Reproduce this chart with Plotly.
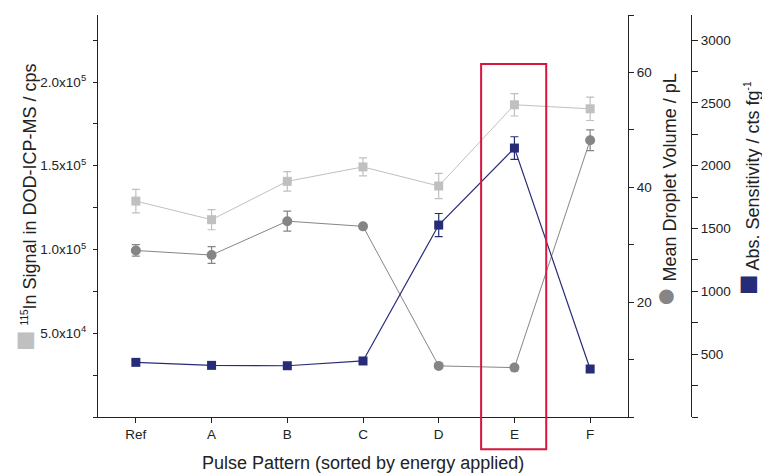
import plotly.graph_objects as go

categories = ["Ref", "A", "B", "C", "D", "E", "F"]
in_signal = [128900, 117800, 140700, 149300, 137900, 186400, 184000]
in_signal_err = [7000, 6000, 5800, 5400, 7500, 6700, 7000]
droplet_volume = [29.0, 28.2, 34.1, 33.2, 8.9, 8.6, 48.2]
droplet_err = [1.0, 1.45, 1.75, 0.3, 0.3, 0.3, 1.8]
sensitivity = [435, 411, 408, 446, 1528, 2141, 382]
sens_err = [15, 12, 12, 12, 92, 90, 12]

left_ticks = [5e4, 1e5, 1.5e5, 2e5]
left_ticktext = ["5.0x10<sup>4</sup>", "1.0x10<sup>5</sup>", "1.5x10<sup>5</sup>", "2.0x10<sup>5</sup>"]
vol_ticks = [20, 40, 60]
sens_ticks = [500, 1000, 1500, 2000, 2500, 3000]
highlight = "E"

LIGHT = "#c0c0c0"
GRAY = "#858585"
NAVY = "#272c79"
RED = "#d5173e"
AX = "#222222"
FONT = "Arial, Liberation Sans, sans-serif"
TICKFONT = dict(family=FONT, size=13.5, color="#222")
TITLEFONT = dict(family=FONT, size=18, color="#222")

xs = list(range(len(categories)))
fig = go.Figure()
fig.add_trace(go.Scatter(
    x=xs, y=in_signal, mode="lines+markers", yaxis="y",
    line=dict(color=LIGHT, width=1),
    marker=dict(symbol="square", size=9, color=LIGHT),
    error_y=dict(type="data", array=in_signal_err, color=LIGHT, thickness=1.2, width=4),
))
fig.add_trace(go.Scatter(
    x=xs, y=droplet_volume, mode="lines+markers", yaxis="y2",
    line=dict(color=GRAY, width=1),
    marker=dict(symbol="circle", size=10, color=GRAY),
    error_y=dict(type="data", array=droplet_err, color=GRAY, thickness=1.2, width=4),
))
fig.add_trace(go.Scatter(
    x=xs, y=sensitivity, mode="lines+markers", yaxis="y3",
    line=dict(color=NAVY, width=1.2),
    marker=dict(symbol="square", size=9, color=NAVY),
    error_y=dict(type="data", array=sens_err, color=NAVY, thickness=1.2, width=4),
))

W, H = 762, 474
ml, mr, mt, mb = 98, 71, 15, 57
plot_w = W - ml - mr
plot_h = H - mt - mb
xdom = 530 / plot_w
xr = [-0.5, len(categories) - 0.5]

axis_common = dict(showline=True, linecolor=AX, linewidth=1.3, ticks="outside",
                   tickcolor=AX, tickwidth=1.3, showgrid=False, zeroline=False,
                   automargin=False, tickfont=TICKFONT)

fig.update_layout(
    width=W, height=H,
    margin=dict(l=ml, r=mr, t=mt, b=mb, autoexpand=False),
    plot_bgcolor="white", paper_bgcolor="white",
    showlegend=False,
    font=dict(family=FONT, color="#222"),
    xaxis=dict(domain=[0, xdom], range=xr, tickvals=xs, ticktext=categories,
               ticklen=5, anchor="y", **axis_common),
    yaxis=dict(range=[0, 2.4e5], tickvals=left_ticks, ticktext=left_ticktext, ticklen=4,
               ticklabelstandoff=4,
               minor=dict(dtick=2.5e4, tick0=0, ticklen=4, tickcolor=AX, ticks="outside", showgrid=False),
               **axis_common),
    yaxis2=dict(range=[0, 70], tickvals=vol_ticks, overlaying="y", side="right", anchor="x",
                ticklen=5,
                minor=dict(dtick=10, tick0=0, ticklen=5, tickcolor=AX, ticks="outside", showgrid=False),
                **axis_common),
    yaxis3=dict(range=[0, 3200], tickvals=sens_ticks, overlaying="y", side="right", anchor="free",
                position=1.0, ticklen=6,
                minor=dict(dtick=250, tick0=0, ticklen=6, tickcolor=AX, ticks="outside", showgrid=False),
                **axis_common),
)

hi = categories.index(highlight)
def xpaper(v):
    return xdom * (v - xr[0]) / (xr[1] - xr[0])
fig.add_shape(type="rect", xref="paper", yref="paper",
              x0=xpaper(hi - 0.44), x1=xpaper(hi + 0.42), y0=-0.08, y1=0.878,
              line=dict(color=RED, width=2), fillcolor="rgba(0,0,0,0)", layer="above")

def px_x(px):
    return (px - ml) / plot_w
def px_y(py):
    return (H - mb - py) / plot_h

fig.add_annotation(
    text="Pulse Pattern (sorted by energy applied)",
    xref="paper", yref="paper", x=px_x(363), y=px_y(463),
    showarrow=False, font=TITLEFONT, xanchor="center", yanchor="middle")
fig.add_annotation(
    text='<span style="font-size:34px;color:%s">■</span> <sup><span style="font-size:10px">115</span></sup>In Signal in DOD-ICP-MS / cps' % LIGHT,
    xref="paper", yref="paper", x=px_x(24), y=px_y(207),
    textangle=-90, showarrow=False, font=TITLEFONT,
    xanchor="center", yanchor="middle")
fig.add_annotation(
    text='<span style="font-size:34px;color:%s">●</span> Mean Droplet Volume / pL' % GRAY,
    xref="paper", yref="paper", x=px_x(664), y=px_y(190),
    textangle=-90, showarrow=False, font=TITLEFONT,
    xanchor="center", yanchor="middle")
fig.add_annotation(
    text='<span style="font-size:34px;color:%s">■</span> Abs. Sensitivity / cts fg<sup><span style="font-size:10px">-1</span></sup>' % NAVY,
    xref="paper", yref="paper", x=px_x(747), y=px_y(188),
    textangle=-90, showarrow=False, font=TITLEFONT,
    xanchor="center", yanchor="middle")

fig.write_html("out.html", config={"displayModeBar": False},
               post_script="document.body.style.margin='0';document.body.style.padding='0';document.body.style.overflow='hidden';")
